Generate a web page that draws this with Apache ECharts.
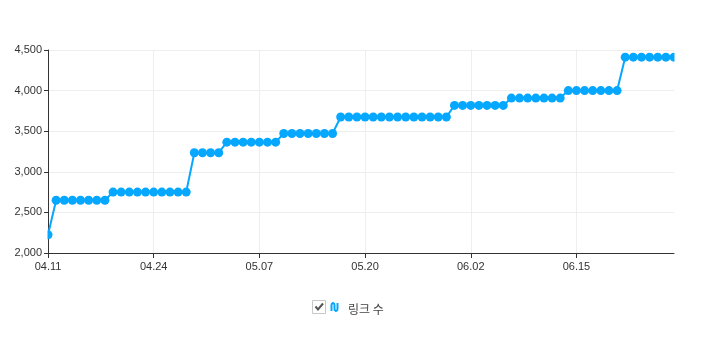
<!DOCTYPE html>
<html>
<head>
<meta charset="utf-8">
<script src="https://cdn.jsdelivr.net/npm/echarts@6/dist/echarts.min.js"></script>
<style>
html,body{margin:0;padding:0;background:#fff;}
#c{width:718px;height:340px;}
</style>
</head>
<body>
<div id="c"></div>
<script>
// Dates: 04.11 .. 06.27 (daily)
const startMonth = 4, startDay = 11, dayCount = 78;
const monthDays = {4: 30, 5: 31, 6: 30};
const categories = [];
(function () {
  let m = startMonth, d = startDay;
  for (let i = 0; i < dayCount; i++) {
    categories.push(String(m).padStart(2, '0') + '.' + String(d).padStart(2, '0'));
    d++;
    if (d > monthDays[m]) { d = 1; m++; }
  }
})();

// Link count values, read per day
const linkCounts = [
  2225,
  2650, 2650, 2650, 2650, 2650, 2650, 2650,
  2750, 2750, 2750, 2750, 2750, 2750, 2750, 2750, 2750, 2750,
  3235, 3235, 3235, 3235,
  3365, 3365, 3365, 3365, 3365, 3365, 3365,
  3472, 3472, 3472, 3472, 3472, 3472, 3472,
  3675, 3675, 3675, 3675, 3675, 3675, 3675, 3675, 3675, 3675, 3675, 3675, 3675, 3675,
  3818, 3818, 3818, 3818, 3818, 3818, 3818,
  3908, 3908, 3908, 3908, 3908, 3908, 3908,
  4000, 4000, 4000, 4000, 4000, 4000, 4000,
  4412, 4412, 4412, 4412, 4412, 4412, 4412
];
const seriesName = '링크 수';

const chart = echarts.init(document.getElementById('c'), null, {renderer: 'canvas'});
const blue = '#06a7ff';
const legendGraphics = [
  {type: 'rect', shape: {x: 312.5, y: 300.5, width: 13, height: 13}, style: {fill: '#fff', stroke: '#c8c8c8', lineWidth: 1}, silent: true},
  {type: 'polyline', shape: {points: [[315.5, 306.5], [318, 309.5], [323, 303.5]]}, style: {stroke: '#555', lineWidth: 2, fill: null}, silent: true},
  {type: 'polyline', shape: {points: [
    [331.5, 311], [331.5, 305], [331.8, 303.8], [333, 303], [334.2, 303.8], [334.5, 305],
    [334.5, 309], [334.8, 310.2], [336, 311], [337.2, 310.2], [337.5, 309], [337.5, 303]
  ]}, style: {stroke: blue, lineWidth: 2, fill: null}, silent: true}
];
chart.setOption({
  animation: false,
  textStyle: {fontFamily: 'Arial, "Liberation Sans", "Noto Sans CJK KR", sans-serif'},
  grid: {left: 48, right: 44, top: 50, bottom: 87, containLabel: false},
  legend: {
    data: [seriesName],
    left: 324,
    top: 298,
    icon: 'none',
    itemWidth: 14,
    itemHeight: 10,
    itemGap: 4,
    selectedMode: false,
    textStyle: {color: '#444', fontSize: 12, fontFamily: '"Noto Sans CJK KR", sans-serif'}
  },
  graphic: legendGraphics,
  xAxis: {
    type: 'category',
    data: categories,
    boundaryGap: false,
    axisLine: {lineStyle: {color: '#333', width: 1}},
    axisTick: {show: true, interval: 12, length: 5, lineStyle: {color: '#333'}},
    axisLabel: {interval: 12, color: '#333', fontSize: 11, margin: 8},
    splitLine: {show: true, interval: 12, lineStyle: {color: '#eeeeee', width: 1}}
  },
  yAxis: {
    type: 'value',
    min: 2000,
    max: 4500,
    interval: 500,
    axisLine: {show: true, lineStyle: {color: '#333', width: 1}},
    axisTick: {show: true, length: 4, lineStyle: {color: '#333'}},
    axisLabel: {color: '#333', fontSize: 11, margin: 6,
      formatter: v => v.toLocaleString('en-US')},
    splitLine: {show: true, lineStyle: {color: '#eeeeee', width: 1}}
  },
  series: [{
    name: seriesName,
    type: 'line',
    data: linkCounts,
    symbol: 'circle',
    symbolSize: 9,
    showAllSymbol: true,
    lineStyle: {color: blue, width: 2},
    itemStyle: {color: blue},
    clip: true
  }]
});
// Masks so the edge markers are cut at the plot edges (like the reference)
const first = chart.convertToPixel({seriesIndex: 0}, [0, linkCounts[0]]);
const lastIdx = linkCounts.length - 1;
const last = chart.convertToPixel({seriesIndex: 0}, [lastIdx, linkCounts[lastIdx]]);
chart.setOption({
  graphic: legendGraphics.concat([
    {type: 'rect', z: 50, shape: {x: first[0] - 6, y: first[1] - 6, width: 5.5, height: 12}, style: {fill: '#fff'}, silent: true},
    {type: 'rect', z: 50, shape: {x: last[0] + 0.5, y: last[1] - 6, width: 6, height: 12}, style: {fill: '#fff'}, silent: true}
  ])
});
</script>
</body>
</html>
